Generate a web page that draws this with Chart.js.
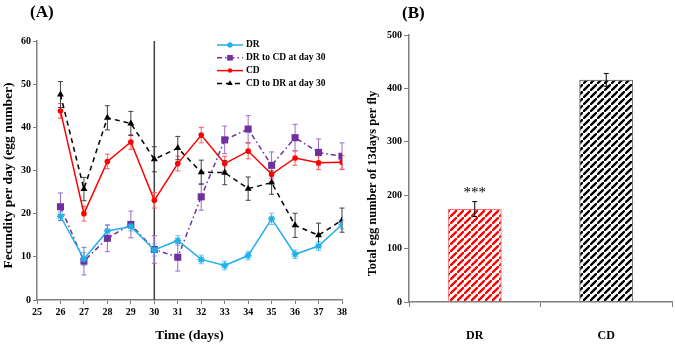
<!DOCTYPE html>
<html>
<head>
<meta charset="utf-8">
<script src="https://cdn.jsdelivr.net/npm/chart.js@4.4.1/dist/chart.umd.min.js"></script>
<style>
  body { margin: 0; background: #fff; width: 675px; height: 347px; position: relative; overflow: hidden; font-family: "Liberation Serif", "Times New Roman", serif; }
  #chartA { position: absolute; left: 0; top: 0; }
  #chartB { position: absolute; left: 352px; top: 0; }
  .panel { position: absolute; font-weight: bold; font-size: 17px; line-height: 20px; }
</style>
</head>
<body>
<canvas id="chartA" width="352" height="347" style="width:352px;height:347px"></canvas>
<canvas id="chartB" width="323" height="347" style="width:323px;height:347px"></canvas>
<div class="panel" style="left:30px;top:2px">(A)</div>
<div class="panel" style="left:402px;top:3px">(B)</div>
<script>
// panel A data (day 26 - 38)
const days = [26, 27, 28, 29, 30, 31, 32, 33, 34, 35, 36, 37, 38]
const dr = [19.4, 9.5, 16.0, 17.0, 11.6, 13.8, 9.4, 8.0, 10.3, 18.8, 10.6, 12.5, 17.5]
const drErr = [1.0, 1.5, 1.3, 1.0, 1.4, 1.1, 1.0, 1.0, 1.0, 1.3, 1.0, 1.0, 1.0]
const drToCd = [21.6, 9.0, 14.3, 17.5, 11.7, 9.9, 23.9, 37.1, 39.6, 31.2, 37.6, 34.2, 33.3]
const drToCdErr = [3.2, 3.2, 3.1, 3.1, 3.2, 3.2, 3.1, 3.2, 3.1, 3.1, 3.1, 3.1, 3.1]
const cd = [43.8, 20.0, 32.1, 36.6, 23.1, 31.6, 38.2, 31.6, 34.5, 29.1, 32.9, 31.8, 31.9]
const cdErr = [1.7, 1.7, 1.7, 1.7, 1.8, 1.7, 1.8, 1.7, 1.8, 1.6, 1.7, 1.6, 1.6]
const cdToDr = [47.6, 25.7, 42.2, 40.9, 32.6, 35.2, 29.6, 29.5, 25.8, 27.2, 17.3, 15.0, 18.5]
const cdToDrErr = [3.0, 2.7, 2.8, 2.8, 2.9, 2.7, 2.8, 2.8, 2.7, 2.7, 2.8, 2.8, 2.8]
const switchDay = 30

// panel B data
const groups = ['DR', 'CD']
const totals = [174, 416]
const totalErr = [14, 12]

Chart.defaults.font.family = '"Liberation Serif", "Times New Roman", serif'
Chart.defaults.font.weight = 'bold'
Chart.defaults.color = '#000'

const pts = arr => days.map((d, i) => ({ x: d, y: arr[i] }))

function hatch(color) {
    const w = 7, h = 7
    const c = document.createElement('canvas')
    c.width = w; c.height = h
    const g = c.getContext('2d')
    g.strokeStyle = color
    g.lineWidth = 2.3
    g.beginPath()
    g.moveTo(0, h); g.lineTo(w, 0)
    g.moveTo(-w, 2 * h); g.lineTo(0, h)
    g.moveTo(w, 0); g.lineTo(2 * w, -h)
    g.stroke()
    return g.createPattern(c, 'repeat')
}

// error bars, drawn from each dataset's "errors" array
function errorBars(id, stage, cap) {
    const draw = chart => {
        const ctx = chart.ctx, y = chart.scales.y
        chart.data.datasets.forEach((ds, i) => {
            if (!ds.errors) return
            const meta = chart.getDatasetMeta(i)
            ctx.save()
            ctx.strokeStyle = ds.errorColor
            ctx.lineWidth = 1
            meta.data.forEach((el, j) => {
                const v = typeof ds.data[j] === 'object' ? ds.data[j].y : ds.data[j]
                const top = y.getPixelForValue(v + ds.errors[j])
                const bot = y.getPixelForValue(v - ds.errors[j])
                ctx.beginPath()
                ctx.moveTo(el.x, top); ctx.lineTo(el.x, bot)
                ctx.moveTo(el.x - cap, top); ctx.lineTo(el.x + cap, top)
                ctx.moveTo(el.x - cap, bot); ctx.lineTo(el.x + cap, bot)
                ctx.stroke()
            })
            ctx.restore()
        })
    }
    const p = { id: id }
    p[stage] = draw
    return p
}

// rotated y title, a little below the middle of the axis like the original
function sideTitle(id, text, size, x, shift) {
    return {
        id: id,
        afterDraw(chart) {
            const ctx = chart.ctx, a = chart.chartArea
            ctx.save()
            ctx.translate(x, (a.top + a.bottom) / 2 + shift)
            ctx.rotate(-Math.PI / 2)
            ctx.font = 'bold ' + size + 'px "Liberation Serif", serif'
            ctx.textAlign = 'center'
            ctx.textBaseline = 'middle'
            ctx.fillStyle = '#000'
            ctx.fillText(text, 0, 0)
            ctx.restore()
        }
    }
}

const switchLine = {
    id: 'switchLine',
    beforeDatasetsDraw(chart) {
        const ctx = chart.ctx, x = chart.scales.x.getPixelForValue(switchDay)
        ctx.save()
        ctx.strokeStyle = '#404040'
        ctx.lineWidth = 1.5
        ctx.beginPath()
        ctx.moveTo(x, chart.chartArea.top)
        ctx.lineTo(x, chart.chartArea.bottom)
        ctx.stroke()
        ctx.restore()
    }
}

const insideLegend = {
    id: 'insideLegend',
    afterDraw(chart) {
        const ctx = chart.ctx, a = chart.chartArea
        const x0 = a.left + 180, y0 = a.top + 4, row = 12.8
        ctx.save()
        ctx.font = 'bold 9.5px "Liberation Serif", serif'
        ctx.textBaseline = 'middle'
        chart.data.datasets.forEach((ds, i) => {
            const y = y0 + i * row
            ctx.strokeStyle = ds.borderColor
            ctx.lineWidth = ds.borderWidth
            ctx.setLineDash(ds.borderDash || [])
            ctx.beginPath(); ctx.moveTo(x0, y); ctx.lineTo(x0 + 26, y); ctx.stroke()
            ctx.setLineDash([])
            ctx.fillStyle = ds.pointBackgroundColor
            ctx.strokeStyle = ds.pointBorderColor
            ctx.lineWidth = ds.pointBorderWidth
            Chart.helpers.drawPoint(ctx, { pointStyle: ds.pointStyle, radius: ds.pointRadius * 0.8, borderWidth: ds.pointBorderWidth, rotation: 0 }, x0 + 13, y)
            ctx.fillStyle = '#000'
            ctx.fillText(ds.label, x0 + 29, y)
        })
        ctx.restore()
    }
}

const stars = {
    id: 'stars',
    afterDatasetsDraw(chart) {
        const ctx = chart.ctx
        const el = chart.getDatasetMeta(0).data[0]
        const y = chart.scales.y.getPixelForValue(totals[0] + totalErr[0])
        ctx.save()
        ctx.font = '15px "Liberation Serif", serif'
        ctx.textAlign = 'center'
        ctx.textBaseline = 'middle'
        ctx.fillStyle = '#000'
        ctx.fillText('***', el.x, y - 9)
        ctx.restore()
    }
}

const axisGray = '#808080'

new Chart(document.querySelector('#chartA').getContext('2d'), {
    type: 'line',
    data: {
        datasets: [
            { label: 'DR', data: pts(dr), errors: drErr, errorColor: '#5cc8f2',
              borderColor: '#1fb0ea', borderWidth: 1.5, pointStyle: 'star', pointRadius: 3.5,
              pointBackgroundColor: '#1fb0ea', pointBorderColor: '#1fb0ea', pointBorderWidth: 1.5 },
            { label: 'DR to CD at day 30', data: pts(drToCd), errors: drToCdErr, errorColor: '#9a6cc8',
              borderColor: '#7030a0', borderWidth: 1.5, borderDash: [5, 3, 1.5, 3], pointStyle: 'rect', pointRadius: 5,
              pointBackgroundColor: '#7030a0', pointBorderColor: '#7030a0', pointBorderWidth: 0 },
            { label: 'CD', data: pts(cd), errors: cdErr, errorColor: '#ff5a5a',
              borderColor: '#ff0000', borderWidth: 1.5, pointStyle: 'circle', pointRadius: 2.8,
              pointBackgroundColor: '#ff0000', pointBorderColor: '#ff0000', pointBorderWidth: 0 },
            { label: 'CD to DR at day 30', data: pts(cdToDr), errors: cdToDrErr, errorColor: '#404040',
              borderColor: '#000', borderWidth: 1.5, borderDash: [5, 4], pointStyle: 'triangle', pointRadius: 4,
              pointBackgroundColor: '#000', pointBorderColor: '#000', pointBorderWidth: 0 }
        ]
    },
    options: {
        responsive: false,
        animation: false,
        layout: { padding: { top: 41, right: 10, left: 0, bottom: 0 } },
        plugins: { legend: { display: false }, tooltip: { enabled: false } },
        scales: {
            x: {
                type: 'linear', min: 25, max: 38,
                ticks: { stepSize: 1, font: { size: 10 }, padding: 2, maxRotation: 0 },
                grid: { drawOnChartArea: false, color: axisGray, tickLength: 4 },
                border: { color: axisGray, width: 1.5 },
                title: { display: true, text: 'Time (days)', font: { size: 13.5 }, padding: { top: 0, bottom: 3 } },
                afterFit: s => { s.height = 47 }
            },
            y: {
                min: 0, max: 60,
                ticks: { stepSize: 10, font: { size: 10 }, padding: 2 },
                grid: { drawOnChartArea: false, color: axisGray, tickLength: 4 },
                border: { color: axisGray, width: 1.5 },
                afterFit: s => { s.width = 37 }
            }
        }
    },
    plugins: [switchLine, errorBars('errA', 'beforeDatasetsDraw', 2.5), insideLegend,
              sideTitle('titleA', 'Fecundity per day (egg number)', 13.5, 9, 5)]
})

new Chart(document.querySelector('#chartB').getContext('2d'), {
    type: 'bar',
    data: {
        labels: groups,
        datasets: [{
            data: totals, errors: totalErr, errorColor: '#000',
            backgroundColor: [hatch('#ff0000'), hatch('#000000')],
            borderColor: ['#ff7070', '#606060'], borderWidth: 1,
            barPercentage: 0.41, categoryPercentage: 1
        }]
    },
    options: {
        responsive: false,
        animation: false,
        layout: { padding: { top: 35, right: 3, left: 0, bottom: 0 } },
        plugins: { legend: { display: false }, tooltip: { enabled: false } },
        scales: {
            x: {
                ticks: { font: { size: 12 }, padding: 22 },
                grid: { drawOnChartArea: false, color: axisGray, tickLength: 5 },
                border: { color: axisGray, width: 1.5 },
                afterFit: s => { s.height = 45 }
            },
            y: {
                min: 0, max: 500,
                ticks: { stepSize: 100, font: { size: 10 }, padding: 2 },
                grid: { drawOnChartArea: false, color: axisGray, tickLength: 5 },
                border: { color: axisGray, width: 1.5 },
                afterFit: s => { s.width = 57 }
            }
        }
    },
    plugins: [errorBars('errB', 'afterDatasetsDraw', 2.5), stars,
              sideTitle('titleB', 'Total egg number of 13days per fly', 12.5, 21, 15)]
})
</script>
</body>
</html>
